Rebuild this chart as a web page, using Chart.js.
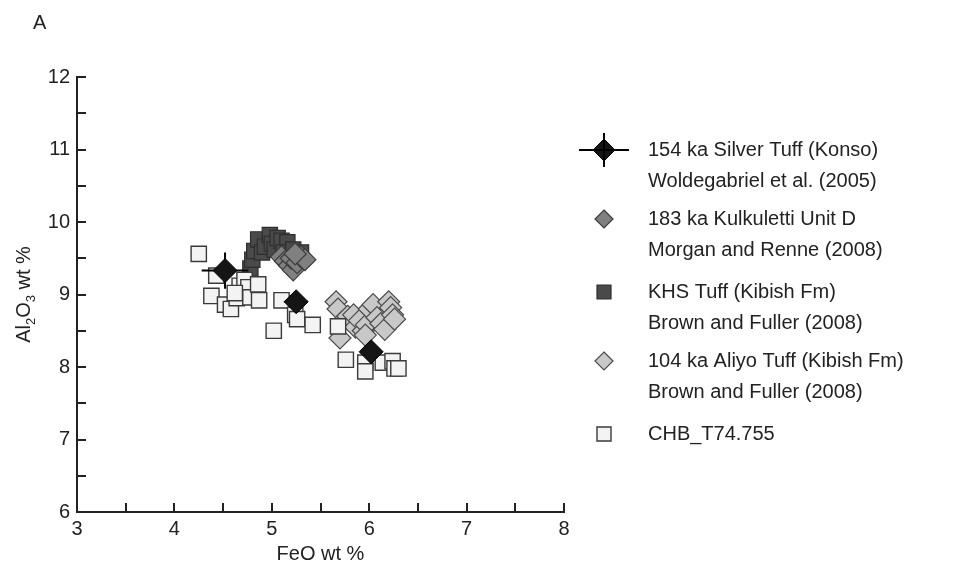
<!DOCTYPE html>
<html>
<head>
<meta charset="utf-8">
<script src="https://cdn.jsdelivr.net/npm/chart.js@4.4.1/dist/chart.umd.min.js"></script>
<style>
  html, body { margin: 0; padding: 0; background: #fff; }
  #wrap { width: 954px; height: 567px; }
</style>
</head>
<body>
<div id="wrap"><canvas id="chart" width="954" height="567"></canvas></div>
<script>
'use strict';

// 154 ka Silver Tuff (Konso), with 1 sigma error bars
var silverFeO = [4.52, 5.25, 6.02];
var silverAl = [9.33, 8.90, 8.21];
var silverFeOErr = [0.24, 0.12, 0.05];
var silverAlErr = [0.25, 0.13, 0.05];

// 183 ka Kulkuletti Unit D
var kulkFeO = [5.10, 5.14, 5.18, 5.22, 5.20, 5.26, 5.30, 5.34, 5.24];
var kulkAl = [9.52, 9.46, 9.40, 9.34, 9.50, 9.44, 9.52, 9.48, 9.56];

// KHS Tuff (Kibish Fm)
var khsFeO = [4.78, 4.80, 4.82, 4.86, 4.90, 4.93, 4.98, 5.00, 5.03, 5.06, 5.10, 5.16, 5.12, 5.22, 5.30, 5.26];
var khsAl = [9.36, 9.48, 9.60, 9.76, 9.58, 9.66, 9.82, 9.70, 9.62, 9.78, 9.74, 9.72, 9.58, 9.62, 9.58, 9.50];

// 104 ka Aliyo Tuff (Kibish Fm)
var aliyoFeO = [5.66, 5.68, 5.70, 5.72, 5.78, 5.84, 5.86, 5.90, 5.94, 5.97, 6.00, 6.04, 6.08, 6.12, 6.16, 6.20, 6.22, 6.24, 6.26, 5.96];
var aliyoAl = [8.90, 8.80, 8.40, 8.62, 8.70, 8.72, 8.55, 8.64, 8.50, 8.58, 8.80, 8.86, 8.68, 8.60, 8.52, 8.90, 8.82, 8.72, 8.66, 8.44];

// CHB_T74.755
var chbFeO = [4.25, 4.43, 4.38, 4.52, 4.58, 4.64, 4.67, 4.72, 4.76, 4.78, 4.86, 4.87, 4.62, 5.02, 5.10, 5.24, 5.26, 5.42, 5.68, 5.76, 5.96, 5.96, 6.14, 6.24, 6.26, 6.30];
var chbAl = [9.56, 9.26, 8.98, 8.86, 8.80, 8.95, 9.12, 9.20, 9.10, 8.96, 9.14, 8.92, 9.02, 8.50, 8.92, 8.72, 8.66, 8.58, 8.56, 8.10, 8.06, 7.94, 8.06, 8.08, 7.98, 7.98];

var xMin = 3, xMax = 8, yMin = 6, yMax = 12, tickStep = 0.5;

var legendText = [
    ['154 ka Silver Tuff (Konso)', 'Woldegabriel et al. (2005)'],
    ['183 ka Kulkuletti Unit D', 'Morgan and Renne (2008)'],
    ['KHS Tuff (Kibish Fm)', 'Brown and Fuller (2008)'],
    ['104 ka Aliyo Tuff (Kibish Fm)', 'Brown and Fuller (2008)'],
    ['CHB_T74.755']
];

var FONT = '"Liberation Sans", Arial, sans-serif';
var INK = '#222';

function toPoints(xs, ys) {
    return xs.map(function (v, i) { return { x: v, y: ys[i] }; });
}

var datasets = [
    {
        label: legendText[0].join(' '),
        data: toPoints(silverFeO, silverAl),
        pointStyle: 'rectRot', pointRadius: 12,
        backgroundColor: '#151515', borderColor: '#000', borderWidth: 1,
        order: 0
    },
    {
        label: legendText[1].join(' '),
        data: toPoints(kulkFeO, kulkAl),
        pointStyle: 'rectRot', pointRadius: 11,
        backgroundColor: '#808080', borderColor: '#3c3c3c', borderWidth: 1.2,
        order: 3
    },
    {
        label: legendText[2].join(' '),
        data: toPoints(khsFeO, khsAl),
        pointStyle: 'rect', pointRadius: 10.8,
        backgroundColor: '#4a4a4a', borderColor: '#2e2e2e', borderWidth: 1.2,
        order: 4
    },
    {
        label: legendText[3].join(' '),
        data: toPoints(aliyoFeO, aliyoAl),
        pointStyle: 'rectRot', pointRadius: 11,
        backgroundColor: '#c8c8c8', borderColor: '#4a4a4a', borderWidth: 1.2,
        order: 2
    },
    {
        label: legendText[4].join(' '),
        data: toPoints(chbFeO, chbAl),
        pointStyle: 'rect', pointRadius: 10.8,
        backgroundColor: '#f3f3f3', borderColor: '#3a3a3a', borderWidth: 1.4,
        order: 1
    }
];

// error bars under the Silver Tuff diamonds
var errorBars = {
    id: 'errorBars',
    beforeDatasetDraw: function (chart, args) {
        if (args.index !== 0) return;
        var ctx = chart.ctx, x = chart.scales.x, y = chart.scales.y;
        ctx.save();
        ctx.strokeStyle = '#000';
        ctx.lineWidth = 2;
        ctx.beginPath();
        silverFeO.forEach(function (v, i) {
            var px = x.getPixelForValue(v), py = y.getPixelForValue(silverAl[i]);
            ctx.moveTo(x.getPixelForValue(v - silverFeOErr[i]), py);
            ctx.lineTo(x.getPixelForValue(v + silverFeOErr[i]), py);
            ctx.moveTo(px, y.getPixelForValue(silverAl[i] - silverAlErr[i]));
            ctx.lineTo(px, y.getPixelForValue(silverAl[i] + silverAlErr[i]));
        });
        ctx.stroke();
        ctx.restore();
    }
};

// ticks pointing into the plot, panel letter, y title with subscripts, legend
var decorations = {
    id: 'decorations',
    afterDraw: function (chart) {
        var ctx = chart.ctx, area = chart.chartArea, x = chart.scales.x, y = chart.scales.y;
        ctx.save();
        ctx.strokeStyle = INK;
        ctx.lineWidth = 2;
        ctx.beginPath();
        x.ticks.forEach(function (t) {
            var px = Math.round(x.getPixelForValue(t.value));
            ctx.moveTo(px, area.bottom);
            ctx.lineTo(px, area.bottom - 9);
        });
        y.ticks.forEach(function (t) {
            var py = Math.round(y.getPixelForValue(t.value));
            ctx.moveTo(area.left, py);
            ctx.lineTo(area.left + 9, py);
        });
        ctx.stroke();

        ctx.fillStyle = INK;
        ctx.font = '20px ' + FONT;
        ctx.textBaseline = 'middle';
        ctx.textAlign = 'left';
        ctx.fillText('A', 33, 23);

        // y title: Al2O3 wt %
        var parts = [['Al', 0], ['2', 1], ['O', 0], ['3', 1], [' wt %', 0]];
        var big = '20px ' + FONT, small = '13px ' + FONT;
        var total = 0;
        parts.forEach(function (p) {
            ctx.font = p[1] ? small : big;
            total += ctx.measureText(p[0]).width;
        });
        ctx.translate(24, (area.top + area.bottom) / 2);
        ctx.rotate(-Math.PI / 2);
        var u = -total / 2;
        parts.forEach(function (p) {
            ctx.font = p[1] ? small : big;
            ctx.fillText(p[0], u, p[1] ? 7 : 0);
            u += ctx.measureText(p[0]).width;
        });
        ctx.setTransform(1, 0, 0, 1, 0, 0);

        // legend
        var mx = 604, tx = 648, rows = [150, 219, 292, 361, 434], lineGap = 31;
        chart.data.datasets.forEach(function (ds, i) {
            var cy = rows[i];
            ctx.fillStyle = ds.backgroundColor;
            ctx.strokeStyle = ds.borderColor;
            ctx.lineWidth = ds.borderWidth;
            ctx.beginPath();
            if (ds.pointStyle === 'rectRot') {
                var r = i === 0 ? 11 : 9;
                ctx.moveTo(mx, cy - r);
                ctx.lineTo(mx + r, cy);
                ctx.lineTo(mx, cy + r);
                ctx.lineTo(mx - r, cy);
                ctx.closePath();
            } else {
                ctx.rect(mx - 7, cy - 7, 14, 14);
            }
            ctx.fill();
            ctx.stroke();
            if (i === 0) {
                ctx.strokeStyle = '#000';
                ctx.lineWidth = 2;
                ctx.beginPath();
                ctx.moveTo(mx - 25, cy); ctx.lineTo(mx + 25, cy);
                ctx.moveTo(mx, cy - 17); ctx.lineTo(mx, cy + 17);
                ctx.stroke();
            }
            ctx.fillStyle = INK;
            ctx.font = '20px ' + FONT;
            legendText[i].forEach(function (line, j) {
                ctx.fillText(line, tx, cy + j * lineGap);
            });
        });
        ctx.restore();
    }
};

var chart = new Chart(document.getElementById('chart'), {
    type: 'scatter',
    data: { datasets: datasets },
    options: {
        responsive: false,
        animation: false,
        layout: { padding: { left: 0, top: 77, right: 390, bottom: 0 } },
        plugins: { legend: { display: false }, tooltip: { enabled: false } },
        scales: {
            x: {
                type: 'linear', min: xMin, max: xMax,
                afterFit: function (scale) { scale.height = 55; },
                border: { display: true, color: INK, width: 2 },
                grid: { display: true, drawOnChartArea: false, drawTicks: false, color: 'rgba(0,0,0,0)' },
                ticks: {
                    stepSize: tickStep, autoSkip: false, maxRotation: 0, padding: 5,
                    color: INK, font: { family: FONT, size: 20 },
                    callback: function (v) { return Number.isInteger(v) ? String(v) : ''; }
                },
                title: { display: true, text: 'FeO wt %', color: INK, font: { family: FONT, size: 20 }, padding: { top: 0, bottom: 1 } }
            },
            y: {
                type: 'linear', min: yMin, max: yMax,
                afterFit: function (scale) { scale.width = 77; },
                border: { display: true, color: INK, width: 2 },
                grid: { display: true, drawOnChartArea: false, drawTicks: false, color: 'rgba(0,0,0,0)' },
                ticks: {
                    stepSize: tickStep, autoSkip: false, padding: 7,
                    color: INK, font: { family: FONT, size: 20 },
                    callback: function (v) { return Number.isInteger(v) ? String(v) : ''; }
                }
            }
        }
    },
    plugins: [errorBars, decorations]
});
</script>
</body>
</html>
